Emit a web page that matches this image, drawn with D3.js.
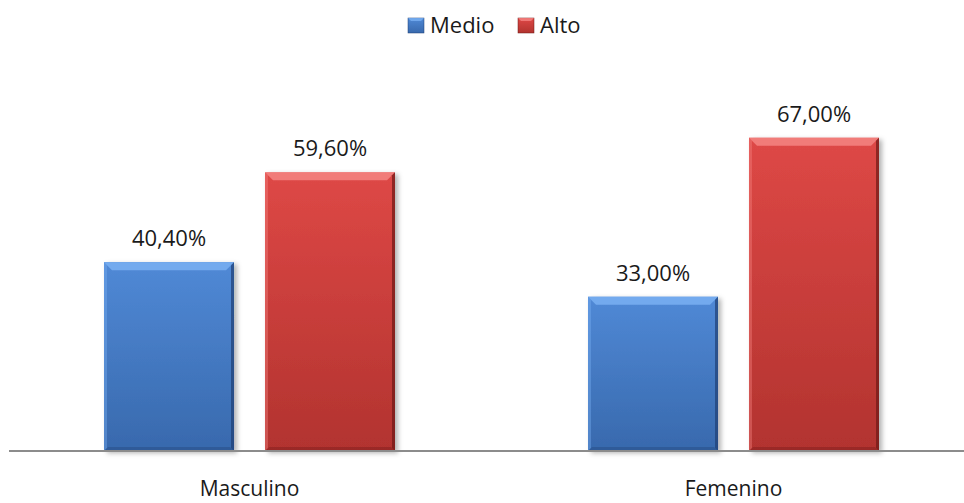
<!DOCTYPE html>
<html>
<head>
<meta charset="utf-8">
<script src="https://cdn.jsdelivr.net/npm/d3@7"></script>
<style>
  body { margin: 0; background: #fff; }
  text { font-family: "Open Sans", "Noto Sans", sans-serif; fill: #1a1a1a; }
</style>
</head>
<body>
<div class="canvas"></div>
<script>
const categories = ['Masculino', 'Femenino'];
const seriesNames = ['Medio', 'Alto'];
const medio = [40.4, 33.0];
const alto = [59.6, 67.0];

const width = 964, height = 503;
const baseY = 451;

// colours per series: face top, face bottom, bevel light, edge dark
const palette = {
  Medio: {top: '#5089d6', bottom: '#3869ad', light: '#79b0f2', dark: '#1f3f73'},
  Alto:  {top: '#de4846', bottom: '#b2332f', light: '#f58583', dark: '#6e1816'}
};

const svg = d3.select('.canvas')
  .append('svg')
  .attr('width', width)
  .attr('height', height);

const defs = svg.append('defs');

const shadow = defs.append('filter')
  .attr('id', 'shadow')
  .attr('x', '-10%').attr('y', '-10%')
  .attr('width', '130%').attr('height', '130%');
shadow.append('feDropShadow')
  .attr('dx', 3).attr('dy', 2)
  .attr('stdDeviation', 2.5)
  .attr('flood-color', '#000')
  .attr('flood-opacity', 0.3);

seriesNames.forEach(s => {
  const g = defs.append('linearGradient')
    .attr('id', 'grad-' + s)
    .attr('x1', 0).attr('y1', 0).attr('x2', 0).attr('y2', 1);
  g.append('stop').attr('offset', '0%').attr('stop-color', palette[s].top);
  g.append('stop').attr('offset', '100%').attr('stop-color', palette[s].bottom);
});

// scales
const x0 = d3.scaleBand()
  .domain(categories)
  .range([7.5, 975.5]);

const x1 = d3.scaleBand()
  .domain(seriesNames)
  .range([96.5, x0.bandwidth() - 96.5])
  .paddingInner(0.1925);

const y = d3.scaleLinear()
  .domain([0, 80])
  .range([baseY, 77]);

const data = [];
categories.forEach((c, i) => {
  data.push({cat: c, series: 'Medio', value: medio[i]});
  data.push({cat: c, series: 'Alto', value: alto[i]});
});

const fmt = v => v.toFixed(2).replace('.', ',') + '%';

const graph = svg.append('g');

const bars = graph.selectAll('g.bar')
  .data(data)
  .enter()
  .append('g')
  .attr('class', 'bar')
  .attr('transform', d => `translate(${x0(d.cat) + x1(d.series)}, ${y(d.value)})`);

const bw = x1.bandwidth();
const bev = 8;

bars.append('rect')
  .attr('width', bw)
  .attr('height', d => baseY - y(d.value))
  .attr('fill', d => `url(#grad-${d.series})`)
  .attr('filter', 'url(#shadow)');

// top bevel
bars.append('path')
  .attr('d', `M0,0 L${bw},0 L${bw - bev},${bev} L${bev},${bev} Z`)
  .attr('fill', d => palette[d.series].light)
  .attr('opacity', 0.85);

// right edge
bars.append('path')
  .attr('d', d => {
    const h = baseY - y(d.value);
    return `M${bw},0 L${bw},${h} L${bw - 3},${h - 3} L${bw - 3},3 Z`;
  })
  .attr('fill', d => palette[d.series].dark)
  .attr('opacity', 0.7);

// left edge
bars.append('path')
  .attr('d', d => {
    const h = baseY - y(d.value);
    return `M0,0 L3,3 L3,${h - 3} L0,${h} Z`;
  })
  .attr('fill', d => palette[d.series].light)
  .attr('opacity', 0.4);

// bottom edge
bars.append('path')
  .attr('d', d => {
    const h = baseY - y(d.value);
    return `M0,${h} L${bw},${h} L${bw - 4},${h - 4} L4,${h - 4} Z`;
  })
  .attr('fill', d => palette[d.series].dark)
  .attr('opacity', 0.35);

// value labels
graph.selectAll('text.value')
  .data(data)
  .enter()
  .append('text')
  .attr('class', 'value')
  .attr('x', d => x0(d.cat) + x1(d.series) + bw / 2)
  .attr('y', d => y(d.value) - 16)
  .attr('text-anchor', 'middle')
  .style('font-size', '22px')
  .text(d => fmt(d.value));

// x axis
const xAxis = d3.axisBottom(x0).tickSize(0).tickPadding(30);
const xAxisGroup = svg.append('g')
  .attr('transform', `translate(0, ${baseY})`)
  .call(xAxis);
xAxisGroup.select('.domain')
  .attr('stroke', '#8c8c8c')
  .attr('stroke-width', 2)
  .attr('d', `M9,0H975`);
xAxisGroup.selectAll('text')
  .style('font-size', '21px')
  .attr('fill', '#1a1a1a');

// legend
const legend = svg.append('g').attr('transform', 'translate(408, 18)');
const legendX = [0, 110];
seriesNames.forEach((s, i) => {
  const item = legend.append('g').attr('transform', `translate(${legendX[i]}, 0)`);
  item.append('rect')
    .attr('width', 16).attr('height', 15)
    .attr('fill', `url(#grad-${s})`)
    .attr('stroke', palette[s].dark)
    .attr('stroke-width', 0.5);
  item.append('path')
    .attr('d', 'M0,0 L16,0 L13,3 L3,3 Z')
    .attr('fill', palette[s].light)
    .attr('opacity', 0.8);
  item.append('text')
    .attr('x', 22)
    .attr('y', 15)
    .style('font-size', '22px')
    .text(s);
});
</script>
</body>
</html>
